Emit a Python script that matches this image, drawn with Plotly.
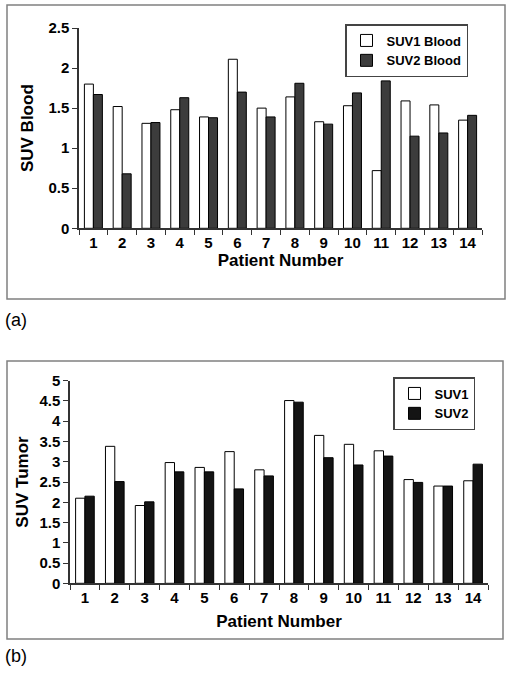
import plotly.graph_objects as go

patients = [str(i) for i in range(1, 15)]
suv1_blood = [1.80, 1.52, 1.31, 1.48, 1.39, 2.11, 1.50, 1.64, 1.33, 1.53, 0.72, 1.59, 1.54, 1.35]
suv2_blood = [1.67, 0.68, 1.32, 1.63, 1.38, 1.70, 1.39, 1.81, 1.30, 1.69, 1.84, 1.15, 1.19, 1.41]
suv1_tumor = [2.10, 3.38, 1.92, 2.98, 2.86, 3.25, 2.80, 4.51, 3.65, 3.43, 3.27, 2.56, 2.40, 2.53]
suv2_tumor = [2.15, 2.51, 2.01, 2.75, 2.75, 2.33, 2.65, 4.47, 3.10, 2.92, 3.14, 2.49, 2.40, 2.94]
blood_ticks = [0, 0.5, 1, 1.5, 2, 2.5]
tumor_ticks = [0, 0.5, 1, 1.5, 2, 2.5, 3, 3.5, 4, 4.5, 5]

W, H = 510, 674
FONT = "Liberation Sans, Arial, sans-serif"

def px(x):
    return x / W

def py(y):
    return 1 - y / H

fig = go.Figure()
fig.add_trace(go.Bar(x=patients, y=suv1_blood, name="SUV1 Blood", xaxis="x", yaxis="y",
                     marker=dict(color="white", line=dict(color="black", width=1)), legend="legend"))
fig.add_trace(go.Bar(x=patients, y=suv2_blood, name="SUV2 Blood", xaxis="x", yaxis="y",
                     marker=dict(color="#3c3c3c", line=dict(color="black", width=1)), legend="legend"))
fig.add_trace(go.Bar(x=patients, y=suv1_tumor, name="SUV1", xaxis="x2", yaxis="y2",
                     marker=dict(color="white", line=dict(color="black", width=1)), legend="legend2"))
fig.add_trace(go.Bar(x=patients, y=suv2_tumor, name="SUV2", xaxis="x2", yaxis="y2",
                     marker=dict(color="#141414", line=dict(color="black", width=1)), legend="legend2"))

tickfont = dict(family=FONT, size=15, color="black", weight="bold")
titlefont = dict(family=FONT, size=17, color="black", weight="bold")
legfont = dict(family=FONT, size=13, color="black", weight="bold")

xcommon = dict(type="category", range=[-0.5, 13.5], showline=True, linecolor="#333", linewidth=1.5,
               ticks="outside", ticklen=5, tickcolor="#333", tickson="boundaries", showgrid=False,
               tickfont=tickfont, zeroline=False, automargin=False)
ycommon = dict(showline=True, linecolor="#333", linewidth=1.5, ticks="outside", ticklen=5,
               tickcolor="#333", showgrid=False, zeroline=False, tickfont=tickfont, automargin=False)

fig.update_layout(
    width=W, height=H, margin=dict(l=0, r=0, t=0, b=0, pad=0), autosize=False,
    paper_bgcolor="white", plot_bgcolor="white",
    barmode="group", bargap=0.375, bargroupgap=0,
    xaxis=dict(xcommon, domain=[px(79), px(482)], anchor="y",
               title=dict(text="Patient Number", font=titlefont, standoff=4)),
    yaxis=dict(ycommon, domain=[py(228.3), py(28)], anchor="x", range=[0, 2.5],
               tickvals=blood_ticks, ticktext=[f"{t:g}" for t in blood_ticks],
               title=dict(text="SUV Blood", font=titlefont, standoff=10)),
    xaxis2=dict(xcommon, domain=[px(70), px(488)], anchor="y2",
                title=dict(text="Patient Number", font=titlefont, standoff=10)),
    yaxis2=dict(ycommon, domain=[py(583.3), py(380.7)], anchor="x2", range=[0, 5],
                tickvals=tumor_ticks, ticktext=[f"{t:g}" for t in tumor_ticks],
                title=dict(text="SUV Tumor", font=titlefont, standoff=6)),
    legend=dict(x=px(468), y=py(24), xanchor="right", yanchor="top", bgcolor="white",
                bordercolor="#444", borderwidth=1.5, font=legfont,
                itemwidth=30, tracegroupgap=0),
    legend2=dict(x=px(475), y=py(377), xanchor="right", yanchor="top", bgcolor="white",
                 bordercolor="#444", borderwidth=1.5, font=legfont,
                 itemwidth=30, tracegroupgap=0),
    shapes=[
        dict(type="rect", xref="paper", yref="paper", x0=px(7), x1=px(505), y0=py(299), y1=py(5),
             line=dict(color="#808080", width=1.5), fillcolor="rgba(0,0,0,0)", layer="below"),
        dict(type="rect", xref="paper", yref="paper", x0=px(7), x1=px(503), y0=py(639), y1=py(361),
             line=dict(color="#808080", width=1.5), fillcolor="rgba(0,0,0,0)", layer="below"),
    ],
    annotations=[
        dict(text="(a)", xref="paper", yref="paper", x=px(3), y=py(320), xanchor="left", yanchor="middle",
             showarrow=False, font=dict(family=FONT, size=18, color="black")),
        dict(text="(b)", xref="paper", yref="paper", x=px(3), y=py(656), xanchor="left", yanchor="middle",
             showarrow=False, font=dict(family=FONT, size=18, color="black")),
    ],
)

fig.write_html("out.html", config={"displayModeBar": False},
               post_script="document.body.style.margin='0';document.body.style.padding='0';")
